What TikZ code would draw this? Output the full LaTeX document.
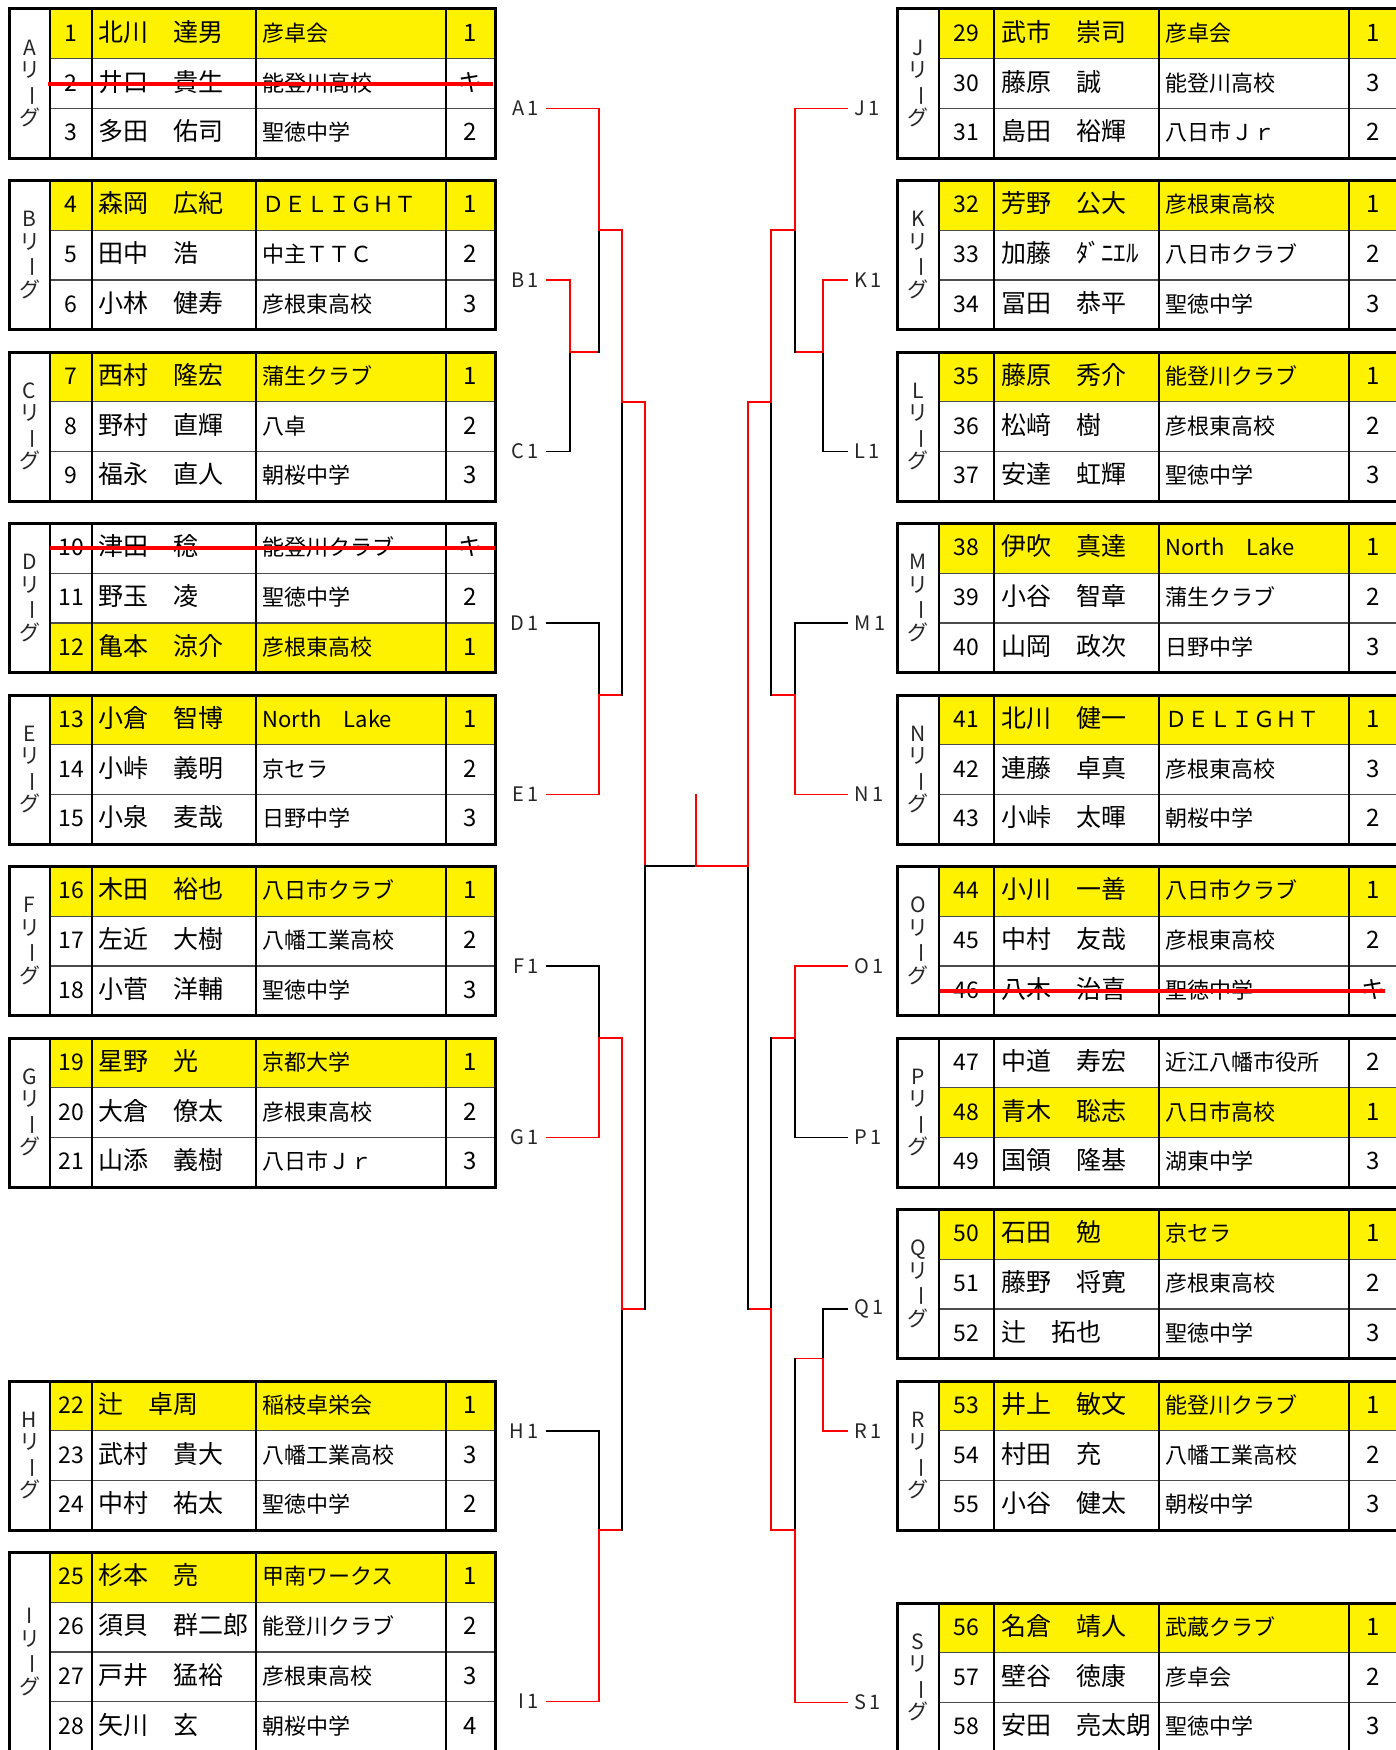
\documentclass[tikz,border=0pt]{standalone}
\usepackage{graphicx}
\usepackage{fontspec}
\setmainfont{Noto Sans CJK JP}

\begin{document}
\begin{tikzpicture}[x=0.5pt, y=-0.5pt,
	win/.style={draw=red, line width=0.85pt, line cap=rect},
	lost/.style={draw=black, line width=0.85pt, line cap=rect},
	frame/.style={draw=black, line width=1.5pt},
	colline/.style={draw=black, line width=1pt},
	rowline/.style={draw=black!70, line width=0.6pt},
	hl/.style={fill=yellow},
	strike/.style={draw=red, line width=2pt},
	lbl/.style={inner sep=0pt, outer sep=4pt, text=black!85, font=\fontsize{10}{12}\selectfont},
	lg/.style={inner sep=0pt, align=center, text=black!85, font=\fontsize{10.5}{11.25}\selectfont},
	cell/.style={inner sep=0pt, text height=0.88em, text depth=0.12em},
	notxt/.style={cell, font=\fontsize{11.5}{13}\selectfont},
	nmtxt/.style={cell, anchor=west, font=\fontsize{12.5}{14}\selectfont},
	cltxt/.style={cell, anchor=west, font=\fontsize{11}{13}\selectfont},
	pttxt/.style={cell, font=\fontsize{12}{13}\selectfont}]
	\useasboundingbox (0,0) rectangle (1396,1750);
	\clip (0,0) rectangle (1396,1750);

	% players, left side
	\def\sx{0}\def\sw{0}
	\foreach \rtop/\ridx/\rno/\rname/\rclub/\rpts/\rhl in {
		9/0/1/北川　達男/彦卓会/1/1, 9/1/2/井口　貴生/能登川高校/キ/0, 9/2/3/多田　佑司/聖徳中学/2/0,
		180.5/0/4/森岡　広紀/ＤＥＬＩＧＨＴ/1/1, 180.5/1/5/田中　浩/中主ＴＴＣ/2/0, 180.5/2/6/小林　健寿/彦根東高校/3/0,
		352/0/7/西村　隆宏/蒲生クラブ/1/1, 352/1/8/野村　直輝/八卓/2/0, 352/2/9/福永　直人/朝桜中学/3/0,
		523.5/0/10/津田　稔/能登川クラブ/キ/0, 523.5/1/11/野玉　凌/聖徳中学/2/0, 523.5/2/12/亀本　涼介/彦根東高校/1/1,
		695/0/13/小倉　智博/North　Lake/1/1, 695/1/14/小峠　義明/京セラ/2/0, 695/2/15/小泉　麦哉/日野中学/3/0,
		866.5/0/16/木田　裕也/八日市クラブ/1/1, 866.5/1/17/左近　大樹/八幡工業高校/2/0, 866.5/2/18/小菅　洋輔/聖徳中学/3/0,
		1038/0/19/星野　光/京都大学/1/1, 1038/1/20/大倉　僚太/彦根東高校/2/0, 1038/2/21/山添　義樹/八日市Ｊｒ/3/0,
		1381/0/22/辻　卓周/稲枝卓栄会/1/1, 1381/1/23/武村　貴大/八幡工業高校/3/0, 1381/2/24/中村　祐太/聖徳中学/2/0,
		1552.5/0/25/杉本　亮/甲南ワークス/1/1, 1552.5/1/26/須貝　群二郎/能登川クラブ/2/0,
		1552.5/2/27/戸井　猛裕/彦根東高校/3/0, 1552.5/3/28/矢川　玄/朝桜中学/4/0}{
		\pgfmathsetmacro\yc{\rtop+(\ridx+0.5)*49.7}
		\ifnum\rhl=1
			\fill[hl] ({50+\sx},{\rtop+\ridx*49.7}) rectangle ({495+\sx+\sw},{\rtop+(\ridx+1)*49.7});
		\fi
		\node[notxt] (n\rno) at ({71+\sx+\sw/2},\yc) {\rno};
		\node[nmtxt] (p\rno) at ({98+\sx+\sw},\yc) {\rname};
		\node[cltxt] (c\rno) at ({262+\sx+\sw},\yc) {\rclub};
		\node[pttxt] (s\rno) at ({470.5+\sx+\sw},\yc) {\rpts};
		}

	% players, right side
	\def\sx{888.7}\def\sw{14}
	\foreach \rtop/\ridx/\rno/\rname/\rclub/\rpts/\rhl in {
		9/0/29/武市　崇司/彦卓会/1/1, 9/1/30/藤原　誠/能登川高校/3/0, 9/2/31/島田　裕輝/八日市Ｊｒ/2/0,
		180.5/0/32/芳野　公大/彦根東高校/1/1, 180.5/1/33/加藤　ﾀﾞﾆｴﾙ/八日市クラブ/2/0, 180.5/2/34/冨田　恭平/聖徳中学/3/0,
		352/0/35/藤原　秀介/能登川クラブ/1/1, 352/1/36/松﨑　樹/彦根東高校/2/0, 352/2/37/安達　虹輝/聖徳中学/3/0,
		523.5/0/38/伊吹　真達/North　Lake/1/1, 523.5/1/39/小谷　智章/蒲生クラブ/2/0, 523.5/2/40/山岡　政次/日野中学/3/0,
		695/0/41/北川　健一/ＤＥＬＩＧＨＴ/1/1, 695/1/42/連藤　卓真/彦根東高校/3/0, 695/2/43/小峠　太暉/朝桜中学/2/0,
		866.5/0/44/小川　一善/八日市クラブ/1/1, 866.5/1/45/中村　友哉/彦根東高校/2/0, 866.5/2/46/八木　治喜/聖徳中学/キ/0,
		1038/0/47/中道　寿宏/近江八幡市役所/2/0, 1038/1/48/青木　聡志/八日市高校/1/1, 1038/2/49/国領　隆基/湖東中学/3/0,
		1209.5/0/50/石田　勉/京セラ/1/1, 1209.5/1/51/藤野　将寛/彦根東高校/2/0, 1209.5/2/52/辻　拓也/聖徳中学/3/0,
		1381/0/53/井上　敏文/能登川クラブ/1/1, 1381/1/54/村田　充/八幡工業高校/2/0, 1381/2/55/小谷　健太/朝桜中学/3/0,
		1603/0/56/名倉　靖人/武蔵クラブ/1/1, 1603/1/57/壁谷　徳康/彦卓会/2/0, 1603/2/58/安田　亮太朗/聖徳中学/3/0}{
		\pgfmathsetmacro\yc{\rtop+(\ridx+0.5)*49.7}
		\ifnum\rhl=1
			\fill[hl] ({50+\sx},{\rtop+\ridx*49.7}) rectangle ({495+\sx+\sw},{\rtop+(\ridx+1)*49.7});
		\fi
		\node[notxt] (n\rno) at ({71+\sx+\sw/2},\yc) {\rno};
		\node[nmtxt] (p\rno) at ({98+\sx+\sw},\yc) {\rname};
		\node[cltxt] (c\rno) at ({262+\sx+\sw},\yc) {\rclub};
		\node[pttxt] (s\rno) at ({470.5+\sx+\sw},\yc) {\rpts};
		}

	% league tables
	\foreach \lgn/\fx/\fw/\ftop/\fn in {A/0/0/9/3, B/0/0/180.5/3, C/0/0/352/3, D/0/0/523.5/3, E/0/0/695/3,
		F/0/0/866.5/3, G/0/0/1038/3, H/0/0/1381/3, I/0/0/1552.5/4,
		J/888.7/14/9/3, K/888.7/14/180.5/3, L/888.7/14/352/3, M/888.7/14/523.5/3, N/888.7/14/695/3,
		O/888.7/14/866.5/3, P/888.7/14/1038/3, Q/888.7/14/1209.5/3, R/888.7/14/1381/3, S/888.7/14/1603/3}{
		\pgfmathsetmacro\fbot{\ftop+\fn*49.7}
		\pgfmathtruncatemacro\fm{\fn-1}
		\foreach \k in {1,...,\fm}{
			\draw[rowline] ({50+\fx},{\ftop+\k*49.7}) -- ({495+\fx+\fw},{\ftop+\k*49.7});}
		\draw[colline] ({50+\fx},\ftop) -- ({50+\fx},\fbot);
		\foreach \c in {91.7,256,446}{
			\draw[colline] ({\c+\fx+\fw},\ftop) -- ({\c+\fx+\fw},\fbot);}
		\draw[frame] ({9+\fx},\ftop) rectangle ({495+\fx+\fw},\fbot);
		\node[lg] (lg\lgn) at ({29.5+\fx},{(\ftop+\fbot)/2}) {\lgn\\リ\\\rotatebox[origin=c]{-90}{ー}\\グ};
		}

	% withdrawn
	\draw[strike] (48.3,0 |- n2) -- (493,0 |- n2);
	\draw[strike] (50,0 |- n10) -- (495,0 |- n10);
	\draw[strike] (940,0 |- n46) -- (1385,0 |- n46);

	% bracket
	\foreach \gl/\y in {A/108.4, B/280, C/451.4, D/622.9, E/794.4, F/965.9, G/1137.4, H/1430.7, I/1701.6}{
		\node[lbl, anchor=east] (\gl1) at (546.7,\y) {\gl\,1};}
	\foreach \gl/\y in {J/108.4, K/280, L/451.4, M/622.9, N/794.4, O/965.9, P/1137.4, Q/1308.9, R/1430.7, S/1702.4}{
		\node[lbl, anchor=west] (\gl1) at (846.7,\y) {\gl\,1};}

	\coordinate (jBC) at (570,352);
	\coordinate (jAC) at (599,230.2);
	\coordinate (jDE) at (599,695);
	\coordinate (jAE) at (622.3,401.7);
	\coordinate (jFG) at (599,1038);
	\coordinate (jHI) at (599,1530);
	\coordinate (jFI) at (622.3,1308.9);
	\coordinate (jL) at (645,865.7);
	\coordinate (fin) at (696,865.7);
	\coordinate (top) at (696,794.4);
	\coordinate (jR) at (747.7,865.7);
	\coordinate (jKL) at (822.7,352);
	\coordinate (jJL) at (795,230.2);
	\coordinate (jMN) at (795,695);
	\coordinate (jJN) at (771,401.7);
	\coordinate (jOP) at (795,1038);
	\coordinate (jQR) at (822.7,1358.6);
	\coordinate (jQS) at (795,1530);
	\coordinate (jOS) at (771,1308.9);

	\draw[win] (B1) -| (jBC);
	\draw[lost] (C1) -| (jBC);
	\draw[win] (jBC) -- (jBC -| jAC);
	\draw[lost] (jBC -| jAC) -- (jAC);
	\draw[win] (A1) -| (jAC);
	\draw[win] (jAC) -- (jAC -| jAE) -- (jAE);
	\draw[lost] (D1) -| (jDE);
	\draw[win] (E1) -| (jDE);
	\draw[win] (jDE) -- (jDE -| jAE);
	\draw[lost] (jDE -| jAE) -- (jAE);
	\draw[win] (jAE) -- (jAE -| jL) -- (jL);
	\draw[lost] (F1) -| (jFG);
	\draw[win] (G1) -| (jFG);
	\draw[win] (jFG) -- (jFG -| jFI) -- (jFI);
	\draw[lost] (H1) -| (jHI);
	\draw[win] (I1) -| (jHI);
	\draw[win] (jHI) -- (jHI -| jFI);
	\draw[lost] (jHI -| jFI) -- (jFI);
	\draw[win] (jFI) -- (jFI -| jL);
	\draw[lost] (jFI -| jL) -- (jL);

	\draw[win] (K1) -| (jKL);
	\draw[lost] (L1) -| (jKL);
	\draw[win] (jKL) -- (jKL -| jJL);
	\draw[lost] (jKL -| jJL) -- (jJL);
	\draw[win] (J1) -| (jJL);
	\draw[win] (jJL) -- (jJL -| jJN) -- (jJN);
	\draw[lost] (M1) -| (jMN);
	\draw[win] (N1) -| (jMN);
	\draw[win] (jMN) -- (jMN -| jJN);
	\draw[lost] (jMN -| jJN) -- (jJN);
	\draw[win] (jJN) -- (jJN -| jR) -- (jR);
	\draw[win] (O1) -| (jOP);
	\draw[lost] (P1) -| (jOP);
	\draw[win] (jOP) -- (jOP -| jOS);
	\draw[lost] (jOP -| jOS) -- (jOS);
	\draw[lost] (Q1) -| (jQR);
	\draw[win] (R1) -| (jQR);
	\draw[win] (jQR) -- (jQR -| jQS);
	\draw[lost] (jQR -| jQS) -- (jQS);
	\draw[win] (S1) -| (jQS);
	\draw[win] (jQS) -- (jQS -| jOS) -- (jOS);
	\draw[win] (jOS) -- (jOS -| jR);
	\draw[lost] (jOS -| jR) -- (jR);

	% final
	\draw[lost] (jL) -- (fin);
	\draw[win] (fin) -- (jR);
	\draw[win] (top) -- (fin);
\end{tikzpicture}
\end{document}
